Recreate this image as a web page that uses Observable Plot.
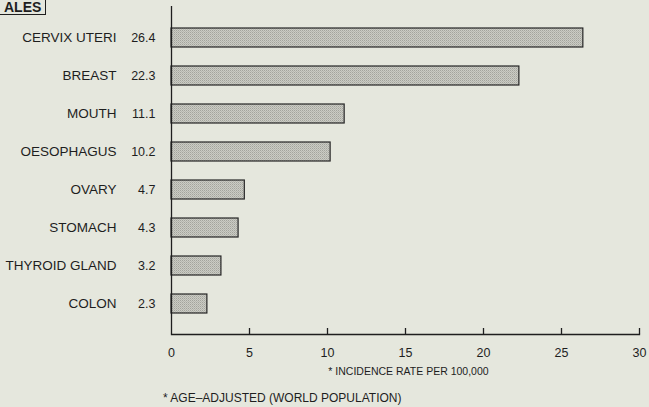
<!DOCTYPE html>
<html>
<head>
<meta charset="utf-8">
<script src="https://cdn.jsdelivr.net/npm/d3@7"></script>
<script src="https://cdn.jsdelivr.net/npm/@observablehq/plot@0.6"></script>
<style>
  html, body { margin: 0; padding: 0; background: #e5e7dd; }
  #wrap { position: relative; width: 649px; height: 407px; overflow: hidden;
          font-family: "Liberation Sans", Arial, sans-serif; color: #1e1e1e; }
  #tag { position: absolute; left: 0; top: 0; padding: 0 4px 0 4px;
         border: 1.5px solid #1e1e1e; border-left: none; border-top: none;
         font-weight: bold; font-size: 14px; line-height: 14px; }
  #note { position: absolute; left: 163px; top: 391px; font-size: 12px; white-space: nowrap; }
  svg text { fill: #1e1e1e; }
</style>
</head>
<body>
<div id="wrap">
  <div id="tag">ALES</div>
  <div id="chart"></div>
  <div id="note">* AGE–ADJUSTED (WORLD POPULATION)</div>
</div>
<script>
// Cancer sites, top to bottom
const sites = ["CERVIX UTERI", "BREAST", "MOUTH", "OESOPHAGUS", "OVARY", "STOMACH", "THYROID GLAND", "COLON"];
// Age-adjusted incidence rate per 100,000
const rates = [26.4, 22.3, 11.1, 10.2, 4.7, 4.3, 3.2, 2.3];
const xTicks = [0, 5, 10, 15, 20, 25, 30];
const xLabel = "* INCIDENCE RATE PER 100,000";

const rows = sites.map((site, i) => ({site, rate: rates[i]}));

const chart = Plot.plot({
  width: 649,
  height: 380,
  marginLeft: 171,
  marginRight: 10,
  marginTop: 6,
  marginBottom: 46,
  style: {background: "transparent", fontFamily: "Liberation Sans, Arial, sans-serif", color: "#1e1e1e"},
  x: {domain: [0, 30], ticks: xTicks},
  y: {domain: sites, padding: 0.5},
  marks: [
    Plot.barX(rows, {x: "rate", y: "site", fill: "url(#stipple)", stroke: "#262626", strokeWidth: 1.2}),
    // left and bottom axis lines
    Plot.ruleX([0], {stroke: "#1e1e1e", strokeWidth: 1.3}),
    Plot.frame({anchor: "bottom", stroke: "#1e1e1e", strokeWidth: 1.3}),
    // short upward ticks on the bottom axis
    Plot.ruleX(xTicks.slice(1), {x: d => d, insetTop: 322, stroke: "#1e1e1e", strokeWidth: 1.3}),
    Plot.axisX({ticks: xTicks, tickSize: 0, tickPadding: 14, fontSize: 12.5, tickFormat: d => String(d),
      label: null}),
    Plot.text([xLabel], {frameAnchor: "bottom", dy: 40, dx: 3, fontSize: 10.5, text: d => d}),
    Plot.axisY({tickSize: 0, tickPadding: 55, fontSize: 13.5, label: null}),
    Plot.text(rows, {x: 0, y: "site", text: d => d.rate.toFixed(1), dx: -16, textAnchor: "end", fontSize: 12.5})
  ]
});

// stippled grey fill used by the bars
const defs = d3.select(chart).insert("defs", ":first-child");
const pat = defs.append("pattern").attr("id", "stipple").attr("width", 2).attr("height", 2)
  .attr("patternUnits", "userSpaceOnUse");
pat.append("rect").attr("width", 2).attr("height", 2).attr("fill", "#cbccc4");
pat.append("rect").attr("width", 1).attr("height", 1).attr("fill", "#a3a49d");
pat.append("rect").attr("x", 1).attr("y", 1).attr("width", 1).attr("height", 1).attr("fill", "#b5b6af");

document.getElementById("chart").appendChild(chart);
</script>
</body>
</html>
